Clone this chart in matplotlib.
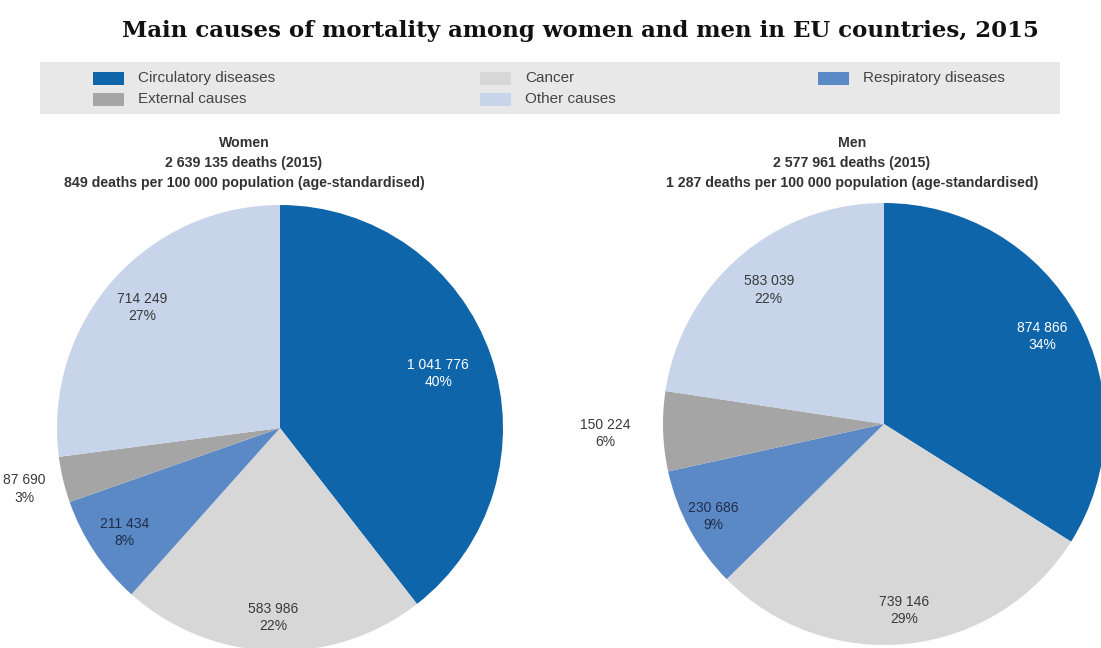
import matplotlib
matplotlib.use("Agg")
import matplotlib.pyplot as plt
from matplotlib.patches import Rectangle
import numpy as np

# ==========================================
# Data
# ==========================================
causes = ["Circulatory diseases", "Cancer", "Respiratory diseases", "External causes", "Other causes"]
colors = ["#0E65AA", "#D7D7D7", "#5B89C6", "#A5A5A5", "#C7D4E9"]

women_deaths = [1041776, 583986, 211434, 87690, 714249]
women_pct = [40, 22, 8, 3, 27]
men_deaths = [874866, 739146, 230686, 150224, 583039]
men_pct = [34, 29, 9, 6, 22]

women_header = ["Women", "2 639 135 deaths (2015)", "849 deaths per 100 000 population (age-standardised)"]
men_header = ["Men", "2 577 961 deaths (2015)", "1 287 deaths per 100 000 population (age-standardised)"]

TITLE = "Main causes of mortality among women and men in EU countries, 2015"

W, H = 1101, 648
SANS = ["Liberation Sans", "DejaVu Sans"]

fig = plt.figure(figsize=(W / 100, H / 100), dpi=100)
ax = fig.add_axes([0, 0, 1, 1])
ax.set_xlim(0, W)
ax.set_ylim(0, H)
ax.set_aspect("equal")
ax.axis("off")


def fmt(n):
    return f"{n:,}".replace(",", " ")


def draw_pie(values, pcts, center, radius, label_r):
    wedges, _ = ax.pie(values, colors=colors, startangle=90, counterclock=False,
                       center=center, radius=radius, frame=True,
                       wedgeprops=dict(linewidth=0))
    for i, w in enumerate(wedges):
        mid = np.deg2rad((w.theta1 + w.theta2) / 2)
        r = label_r[i] * radius
        x = center[0] + r * np.cos(mid)
        y = center[1] + r * np.sin(mid)
        col = "white" if i == 0 else ("#1F2D4A" if i == 2 else "#3A3A3A")
        ax.text(x, y, f"{fmt(values[i])}\n{pcts[i]}%", ha="center", va="center",
                fontsize=10, color=col, family=SANS, linespacing=1.3)


def draw_header(lines, x):
    for k, line in enumerate(lines):
        ax.text(x, H - 143 - 20 * k, line, ha="center", va="center",
                fontsize=10.2, fontweight="bold", color="#333333", family=SANS)


# title
ax.text(580, H - 31, TITLE, ha="center", va="center", fontsize=16.5,
        fontweight="bold", family="DejaVu Serif", color="#111111")

# legend band
ax.add_patch(Rectangle((40, H - 114), 1020, 52, facecolor="#E8E8E8", edgecolor="none"))
legend_pos = {
    "Circulatory diseases": (93, 78),
    "External causes": (93, 99),
    "Cancer": (480, 78),
    "Other causes": (480, 99),
    "Respiratory diseases": (818, 78),
}
for name, c in zip(causes, colors):
    lx, ly = legend_pos[name]
    ax.add_patch(Rectangle((lx, H - ly - 6.5), 31, 13, facecolor=c, edgecolor="none"))
    ax.text(lx + 45, H - ly, name, ha="left", va="center", fontsize=11,
            color="#444444", family=SANS)

# pies
draw_header(women_header, 244)
draw_pie(women_deaths, women_pct, (280, H - 428), 223, [0.75, 0.85, 0.84, 1.18, 0.82])

draw_header(men_header, 852)
draw_pie(men_deaths, men_pct, (884, H - 424), 221, [0.82, 0.85, 0.88, 1.26, 0.80])

ax.set_xlim(0, W)
ax.set_ylim(0, H)

fig.savefig("out.png", dpi=100)
